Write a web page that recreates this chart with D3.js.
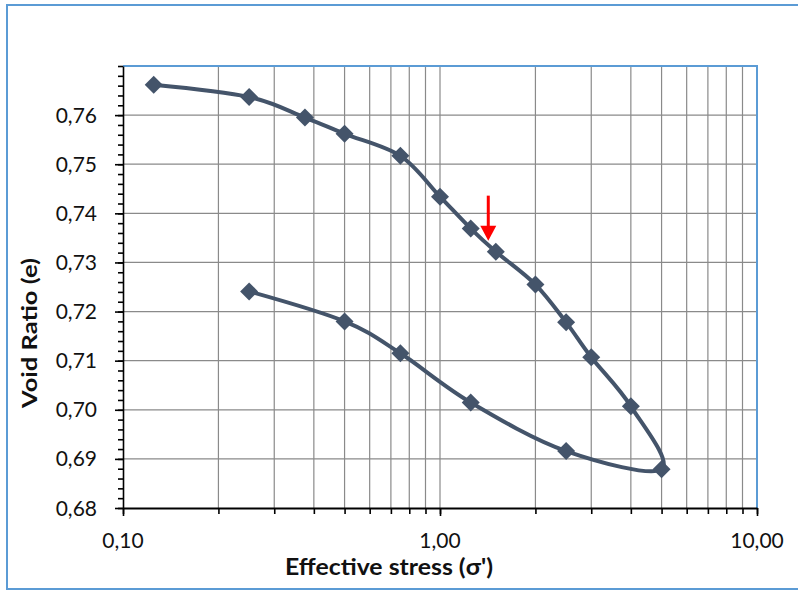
<!DOCTYPE html>
<html>
<head>
<meta charset="utf-8">
<script src="https://cdn.jsdelivr.net/npm/d3@7"></script>
<style>
  body { margin: 0; background: #fff; }
  svg { display: block; }
</style>
</head>
<body>
<div id="chart"></div>
<script>
// effective stress (load 0.125 -> 5, then unload back to 0.25)
const stress = [0.125, 0.25, 0.375, 0.5, 0.75, 1.0, 1.25, 1.5, 2.0, 2.5, 3.0, 4.0, 5.0,
                2.5, 1.25, 0.75, 0.5, 0.25];
const voidRatio = [0.7662, 0.7637, 0.7595, 0.7562, 0.7517, 0.7434, 0.7369, 0.7322, 0.7255,
                   0.7178, 0.7107, 0.7007, 0.6879, 0.6916, 0.7015, 0.7115, 0.7180, 0.7241];

const yMajor = [0.68, 0.69, 0.70, 0.71, 0.72, 0.73, 0.74, 0.75, 0.76];
const xMajor = [0.1, 1, 10];

// red arrow marking a point on the loading branch
const arrowStress = [1.42];
const arrowVoid = [0.7436, 0.7344];

const W = 798, H = 591;
const plotL = 123, plotR = 757, plotT = 66, plotB = 508;

const svg = d3.select("#chart").append("svg")
    .attr("width", W)
    .attr("height", H);

// outer chart frame
svg.append("rect")
    .attr("x", 7).attr("y", 5)
    .attr("width", W + 10).attr("height", 584)
    .attr("fill", "#fff")
    .attr("stroke", "#5b9bd5")
    .attr("stroke-width", 2);

const x = d3.scaleLog().domain([0.1, 10]).range([plotL, plotR]);
const y = d3.scaleLinear().domain([0.68, 0.77]).range([plotB, plotT]);

const fmt = v => d3.format(".2f")(v).replace(".", ",");

// grid
const grid = svg.append("g").attr("stroke", "#8a8a8a").attr("stroke-width", 1.2);
grid.selectAll("line.v")
    .data(x.ticks().filter(d => d > 0.1 && d < 10))
    .enter().append("line")
    .attr("x1", d => x(d)).attr("x2", d => x(d))
    .attr("y1", plotT).attr("y2", plotB);
grid.selectAll("line.h")
    .data(yMajor.filter(d => d > 0.68))
    .enter().append("line")
    .attr("x1", plotL).attr("x2", plotR)
    .attr("y1", d => y(d)).attr("y2", d => y(d));

// plot area border, top and right in blue
svg.append("path")
    .attr("d", `M${plotL},${plotT}H${plotR}V${plotB}`)
    .attr("fill", "none")
    .attr("stroke", "#5b9bd5")
    .attr("stroke-width", 2);

// y axis: minor ticks every 0.002, major every 0.01
const yMinor = d3.range(0, 46).map(i => 0.68 + i * 0.002);
svg.append("g")
    .attr("transform", `translate(${plotL},0)`)
    .call(d3.axisLeft(y).tickValues(yMinor).tickSize(5).tickFormat(""))
    .call(g => g.select(".domain").remove())
    .call(g => g.selectAll("line").attr("stroke", "#000").attr("stroke-width", 1.6));
svg.append("g")
    .attr("transform", `translate(${plotL},0)`)
    .call(d3.axisLeft(y).tickValues(yMajor).tickSize(8).tickSizeOuter(0).tickFormat(""))
    .call(g => g.select(".domain").attr("stroke", "#000").attr("stroke-width", 1.6))
    .call(g => g.selectAll("line").attr("stroke", "#000").attr("stroke-width", 1.6));

// x axis
svg.append("g")
    .attr("transform", `translate(0,${plotB})`)
    .call(d3.axisBottom(x).tickValues(x.ticks()).tickSize(6).tickFormat(""))
    .call(g => g.select(".domain").remove())
    .call(g => g.selectAll("line").attr("stroke", "#000").attr("stroke-width", 1.6));
svg.append("g")
    .attr("transform", `translate(0,${plotB})`)
    .call(d3.axisBottom(x).tickValues(xMajor).tickSize(8).tickSizeOuter(0).tickFormat(""))
    .call(g => g.select(".domain").attr("stroke", "#000").attr("stroke-width", 2))
    .call(g => g.selectAll("line").attr("stroke", "#000").attr("stroke-width", 1.6));

// tick labels
svg.append("g")
    .selectAll("text")
    .data(yMajor)
    .enter().append("text")
    .attr("x", 97)
    .attr("y", d => y(d))
    .attr("dy", "0.36em")
    .attr("text-anchor", "end")
    .attr("font-family", "Lato, sans-serif")
    .attr("font-size", 21)
    .attr("fill", "#111")
    .text(fmt);

svg.append("g")
    .selectAll("text")
    .data(xMajor)
    .enter().append("text")
    .attr("x", d => x(d))
    .attr("y", 548)
    .attr("text-anchor", "middle")
    .attr("font-family", "Lato, sans-serif")
    .attr("font-size", 21)
    .attr("fill", "#111")
    .text(fmt);

// axis titles
svg.append("text")
    .attr("x", 389)
    .attr("y", 575)
    .attr("text-anchor", "middle")
    .attr("font-family", "Lato, sans-serif")
    .attr("font-weight", "bold")
    .attr("font-size", 22)
    .attr("textLength", 208)
    .attr("lengthAdjust", "spacingAndGlyphs")
    .attr("fill", "#111")
    .text("Effective stress (σ')");

svg.append("text")
    .attr("transform", "translate(37,333) rotate(-90)")
    .attr("text-anchor", "middle")
    .attr("font-family", "Lato, sans-serif")
    .attr("font-weight", "bold")
    .attr("font-size", 20)
    .attr("textLength", 150)
    .attr("lengthAdjust", "spacingAndGlyphs")
    .attr("fill", "#111")
    .text("Void Ratio (e)");

// data line, smoothed like a spreadsheet chart
const points = stress.map((s, i) => [s, voidRatio[i]]);
const line = d3.line()
    .x(d => x(d[0]))
    .y(d => y(d[1]))
    .curve(d3.curveCatmullRom.alpha(0));

svg.append("path")
    .datum(points)
    .attr("d", line)
    .attr("fill", "none")
    .attr("stroke", "#44546a")
    .attr("stroke-width", 4)
    .attr("stroke-linejoin", "round");

svg.append("g")
    .selectAll("path")
    .data(points)
    .enter().append("path")
    .attr("transform", d => `translate(${x(d[0])},${y(d[1])})`)
    .attr("d", "M0,-9L9,0L0,9L-9,0Z")
    .attr("fill", "#44546a");

// red arrow
const ax = x(arrowStress[0]);
const ay0 = y(arrowVoid[0]), ay1 = y(arrowVoid[1]);
svg.append("line")
    .attr("x1", ax).attr("x2", ax)
    .attr("y1", ay0).attr("y2", ay1 - 12)
    .attr("stroke", "#ff0000")
    .attr("stroke-width", 3);
svg.append("path")
    .attr("d", `M${ax - 8},${ay1 - 15}L${ax + 8},${ay1 - 15}L${ax},${ay1}Z`)
    .attr("fill", "#ff0000");
</script>
</body>
</html>
